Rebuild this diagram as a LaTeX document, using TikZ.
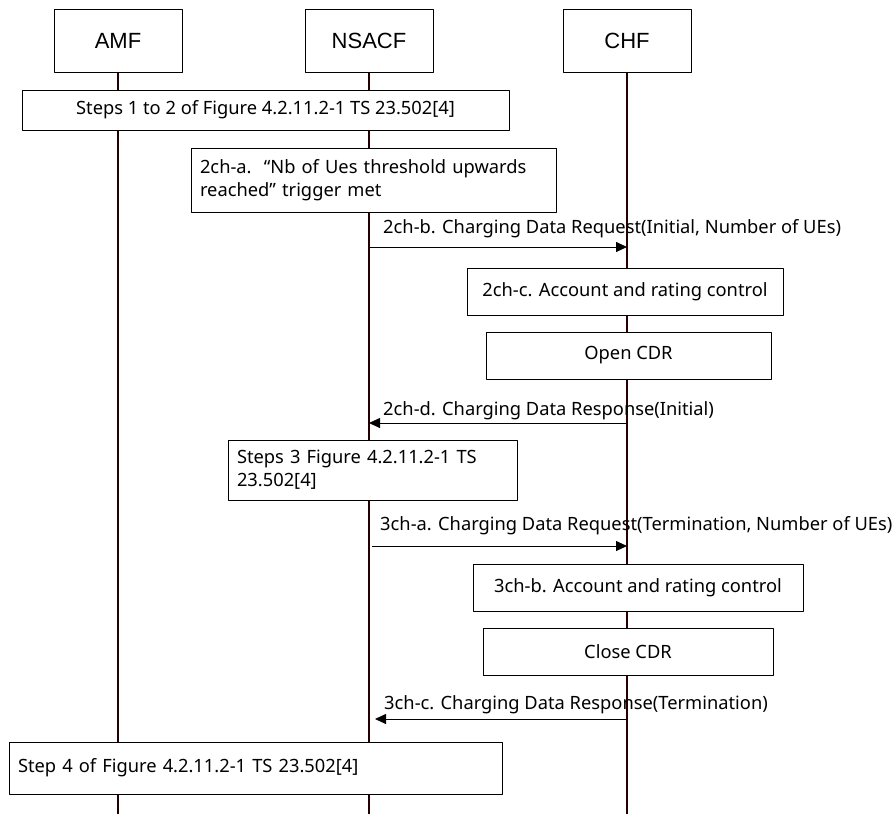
\documentclass[tikz,border=0pt]{standalone}
\usepackage{fontspec}
\setmainfont{Noto Sans}
\newfontfamily\headfont{Liberation Sans}
\usetikzlibrary{arrows.meta,positioning}

\begin{document}
\begin{tikzpicture}[x=1pt,y=-1pt,font=\fontsize{18.3}{23}\selectfont, line join=round, >={Triangle[length=11pt,width=10pt]},
	ent/.style={draw, line width=1pt, minimum width=128pt, minimum height=63pt, font=\headfont\fontsize{22}{26}\selectfont},
	stepbox/.style={draw, fill=white, line width=0.9pt, inner sep=0pt},
	life/.style={line width=1.8pt, draw=black!85!red},
	msg/.style={->, line width=0.8pt},
	lbl/.style={anchor=base west, inner sep=0pt}]
	\useasboundingbox (0,0) rectangle (895,814);
	% entities
	\node[ent] (amf) at (118,40.5) {AMF};
	\node[ent] (nsacf) at (369,41) {NSACF};
	\node[ent] (chf) at (627,41) {CHF};
	\foreach \n in {amf,nsacf,chf}{
		\coordinate (\n-end) at (\n.south |- 0,814);
		\draw[life] (\n) -- (\n-end);}
	% message end points
	\foreach \m/\y in {2chb/247,2chd/423,3cha/546,3chc/719}{
		\coordinate (\m-n) at (nsacf |- 0,\y);
		\coordinate (\m-c) at (chf |- 0,\y);}
	% steps
	\node[stepbox, minimum width=487pt, minimum height=40pt] (s12) at (265.5,110) {Steps 1 to 2 of Figure 4.2.11.2-1 TS 23.502[4]};
	\node[stepbox, minimum width=365pt, minimum height=64pt, text width=347pt, align=left] (s2cha) at (373.5,180) {2ch-a.\ \ “Nb of Ues threshold upwards\\reached”\ trigger met};
	\draw[msg] (2chb-n) -- (2chb-c);
	\node[lbl] (l2chb) at ([xshift=14pt,yshift=14pt]2chb-n) {2ch-b. Charging Data Request(Initial, Number of UEs)};
	\node[stepbox, minimum width=316pt, minimum height=47pt] (s2chc) at (625,291.5) {2ch-c. Account and rating control};
	\node[stepbox, minimum width=285pt, minimum height=47pt] (open) at (628.5,355.5) {Open CDR};
	\draw[msg] (2chd-c) -- (2chd-n);
	\node[lbl] (l2chd) at ([xshift=14pt,yshift=8pt]2chd-n) {2ch-d. Charging Data Response(Initial)};
	\node[stepbox, minimum width=289pt, minimum height=60pt, text width=271pt, align=left] (s3) at (372.5,470) {Steps 3 Figure 4.2.11.2-1 TS\\23.502[4]};
	\draw[msg, shorten <=3pt] (3cha-n) -- (3cha-c);
	\node[lbl] (l3cha) at ([xshift=11pt,yshift=16pt]3cha-n) {3ch-a. Charging Data Request(Termination, Number of UEs)};
	\node[stepbox, minimum width=330pt, minimum height=47pt] (s3chb) at (638,587.5) {3ch-b. Account and rating control};
	\node[stepbox, minimum width=290pt, minimum height=47pt] (close) at (628,651.5) {Close CDR};
	\draw[msg, shorten >=6pt] (3chc-c) -- (3chc-n);
	\node[lbl] (l3chc) at ([xshift=15pt,yshift=10pt]3chc-n) {3ch-c. Charging Data Response(Termination)};
	\node[stepbox, minimum width=493pt, minimum height=52pt, text width=475pt, align=left] (s4) at (255.5,768) {Step 4 of Figure 4.2.11.2-1 TS 23.502[4]};
\end{tikzpicture}
\end{document}
